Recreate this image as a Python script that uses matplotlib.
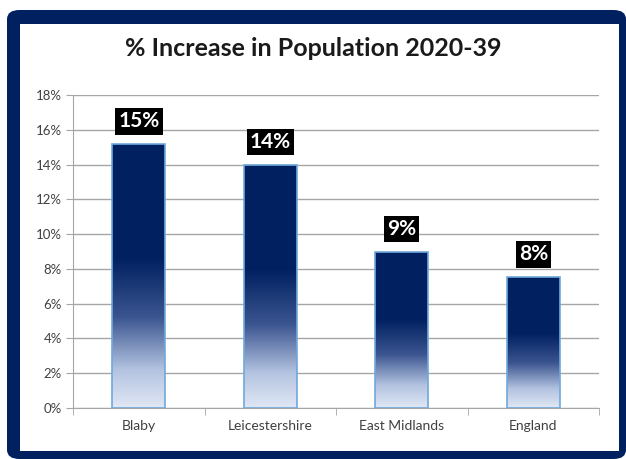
import numpy as np
import matplotlib.pyplot as plt
from matplotlib.patches import FancyBboxPatch, Rectangle
from matplotlib.colors import LinearSegmentedColormap
from matplotlib.ticker import FuncFormatter, MultipleLocator

# ── Datos ─────────────────────────────────────────────────
areas   = ['Blaby', 'Leicestershire', 'East Midlands', 'England']
aumento = [0.152, 0.140, 0.090, 0.0755]
rotulos = ['15%', '14%', '9%', '8%']

navy  = '#002060'
claro = '#e0e7f4'

plt.rcParams['font.family'] = ['Lato', 'DejaVu Sans']

fig = plt.figure(figsize=(6.26, 4.59), dpi=100)
W, H = 626, 459

# marco azul con esquinas redondeadas
marco = FancyBboxPatch((7 / W, 0), (W - 7) / W, (H - 10) / H,
                       boxstyle='round,pad=0,rounding_size=0.02',
                       transform=fig.transFigure, facecolor=navy,
                       edgecolor='none', zorder=0)
fig.patches.append(marco)
fig.patches.append(Rectangle((20 / W, 8 / H), 599 / W, (H - 24 - 8) / H,
                             transform=fig.transFigure, facecolor='white',
                             edgecolor='none', zorder=1))

ax = fig.add_axes([73 / W, 51 / H, 526 / W, 313 / H])
ax.set_facecolor('none')
ax.set_zorder(2)

x = np.arange(len(areas))
ancho = 0.4
ax.set_xlim(-0.5, len(areas) - 0.5)
ax.set_ylim(0, 0.18)

cmap = LinearSegmentedColormap.from_list('grad', [(0, claro), (0.25, '#b3c3e0'),
                                                  (0.6, '#3b5590'), (1, navy)])
for xi, v, lab in zip(x, aumento, rotulos):
    t = np.linspace(0, 1, 200)
    vals = np.clip(t / 0.57, 0, 1)[:, None]
    img = ax.imshow(vals, cmap=cmap, origin='lower', aspect='auto',
                    extent=(xi - ancho / 2, xi + ancho / 2, 0, v), zorder=3)
    rect = Rectangle((xi - ancho / 2, 0), ancho, v, facecolor='none',
                     edgecolor='#6fa8dc', linewidth=1.2, zorder=4)
    ax.add_patch(rect)
    img.set_clip_path(rect)
    ax.annotate(lab, (xi, v), xytext=(0, 16), textcoords='offset points',
                ha='center', va='center', color='white', fontsize=15,
                fontweight='bold', zorder=5,
                bbox=dict(boxstyle='square,pad=0.15', facecolor='black',
                          edgecolor='none'))

ax.set_xlim(-0.5, len(areas) - 0.5)
ax.set_ylim(0, 0.18)
ax.yaxis.set_major_locator(MultipleLocator(0.02))
ax.yaxis.set_major_formatter(FuncFormatter(lambda y, _: f'{y * 100:.0f}%'))
ax.grid(axis='y', color='#a6a6a6', linewidth=1)
ax.set_axisbelow(True)

ax.set_xticks(x)
ax.set_xticklabels(areas, fontsize=10, color='#404040')
ax.set_xticks(np.arange(-0.5, len(areas)), minor=True)
ax.tick_params(axis='x', which='major', length=0, pad=9)
ax.tick_params(axis='x', which='minor', length=5, color='#a6a6a6')
ax.tick_params(axis='y', labelsize=9.5, labelcolor='#404040', length=5,
               color='#a6a6a6', pad=3)

for s in ['top', 'right']:
    ax.spines[s].set_visible(False)
ax.spines['left'].set_color('#a6a6a6')
ax.spines['bottom'].set_color('#a6a6a6')

fig.text(0.5, 1 - 48 / H, '% Increase in Population 2020-39', ha='center',
         va='center', fontsize=18, fontweight='bold', color='#1a1a1a',
         zorder=3)

fig.savefig('out.png', dpi=100)
